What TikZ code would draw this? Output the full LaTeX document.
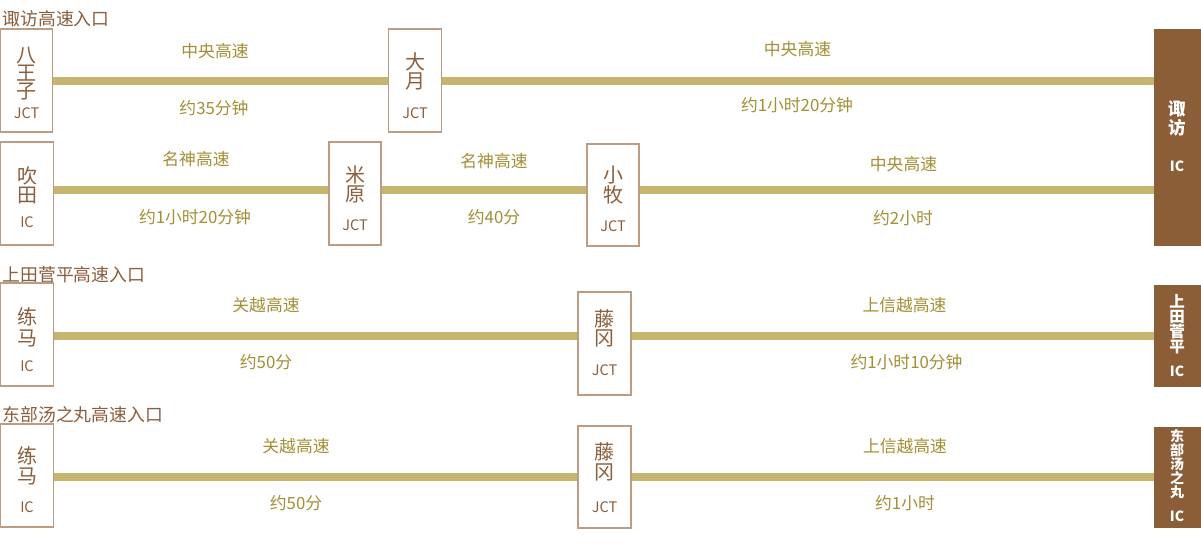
\documentclass[tikz,border=0pt]{standalone}
\usepackage{fontspec}
\setmainfont{Noto Sans CJK SC}
\definecolor{roadc}{HTML}{C5B56E}
\definecolor{lblc}{HTML}{A48F35}
\definecolor{brnc}{HTML}{8B5E3C}
\definecolor{bordc}{HTML}{BC9C82}
\definecolor{icfill}{HTML}{8C5E38}
\tikzset{
  stopbox/.style={draw=bordc, line width=1.3pt, fill=white, minimum height=103pt, inner sep=0pt},
  icbox/.style={fill=icfill, draw=icfill, line width=0.8pt, minimum width=46pt, inner sep=0pt},
  roadline/.style={draw=roadc, line width=8pt},
  lbltext/.style={text=lblc, font=\fontsize{16.8pt}{17pt}\selectfont, inner sep=0pt},
  nametext/.style={text=brnc, font=\fontsize{20pt}{19pt}\selectfont, align=center, inner sep=0pt},
  subtext/.style={text=brnc, font=\fontsize{14.5pt}{14pt}\selectfont, inner sep=0pt},
  titletext/.style={text=brnc, font=\fontsize{17.8pt}{18pt}\selectfont, anchor=west, inner sep=0pt},
  ictext/.style={text=white, align=center, inner sep=0pt}
}
\begin{document}
\begin{tikzpicture}[x=1pt,y=-1pt]
\useasboundingbox[fill=white] (0,0) rectangle (1201,555);

% titles
\node[titletext] (t1) at (2.5,19) {诹访高速入口};
\node[titletext] (t2) at (2.5,274.5) {上田菅平高速入口};
\node[titletext] (t3) at (2.5,415) {东部汤之丸高速入口};

% IC boxes (right)
\node[icbox, minimum height=216pt] (suwaic) at (1177,137) {};
\node[icbox, minimum height=101pt] (uedaic) at (1177,335.5) {};
\node[icbox, minimum height=100pt] (tobuic) at (1177,477) {};
\node[ictext, font=\bfseries\fontsize{17.5pt}{19pt}\selectfont] (suwan) at (1177,118) {诹\\访};
\node[ictext, font=\bfseries\fontsize{14pt}{14pt}\selectfont] (suwas) at (1177,166.5) {IC};
\node[ictext, font=\bfseries\fontsize{15.5pt}{15pt}\selectfont] (uedan) at (1177,324.5) {上\\田\\菅\\平};
\node[ictext, font=\bfseries\fontsize{14pt}{14pt}\selectfont] (uedas) at (1177,371) {IC};
\node[ictext, font=\bfseries\fontsize{14pt}{14pt}\selectfont] (tobun) at (1177,464) {东\\部\\汤\\之\\丸};
\node[ictext, font=\bfseries\fontsize{14pt}{14pt}\selectfont] (tobus) at (1177,516) {IC};

% stop boxes
\node[stopbox, minimum width=52pt] (hachi) at (26.5,80.5) {};
\node[stopbox, minimum width=53pt] (otsuki) at (415,80.5) {};
\node[stopbox, minimum width=53pt] (suita) at (27,193.5) {};
\node[stopbox, minimum width=52pt] (maibara) at (355,193.5) {};
\node[stopbox, minimum width=52pt, minimum height=102pt] (komaki) at (613,195) {};
\node[stopbox, minimum width=53pt] (nerima1) at (27,334.5) {};
\node[stopbox, minimum width=53pt] (fujioka1) at (604.5,343.5) {};
\node[stopbox, minimum width=53pt] (nerima2) at (27,475.5) {};
\node[stopbox, minimum width=53pt, minimum height=102pt] (fujioka2) at (604.5,477) {};

% box texts
\node[nametext, font=\fontsize{20pt}{18pt}\selectfont] (hachin) at (26.5,74) {八\\王\\子};
\node[subtext] (hachis) at (26.5,113.5) {JCT};
\node[nametext] (otsukin) at (415,71.5) {大\\月};
\node[subtext] (otsukis) at (415,113) {JCT};
\node[nametext] (suitan) at (27,185.5) {吹\\田};
\node[subtext] (suitas) at (27,222.5) {IC};
\node[nametext] (maibaran) at (355,184.5) {米\\原};
\node[subtext] (maibaras) at (355,225) {JCT};
\node[nametext, font=\fontsize{20pt}{20pt}\selectfont] (komakin) at (613,185) {小\\牧};
\node[subtext] (komakis) at (613,226) {JCT};
\node[nametext, font=\fontsize{20pt}{20.5pt}\selectfont] (nerima1n) at (27,327.5) {练\\马};
\node[subtext] (nerima1s) at (27,366.5) {IC};
\node[nametext, font=\fontsize{20pt}{19.5pt}\selectfont] (fujioka1n) at (604.5,328.5) {藤\\冈};
\node[subtext] (fujioka1s) at (604.5,370) {JCT};
\node[nametext, font=\fontsize{20pt}{20pt}\selectfont] (nerima2n) at (27,466) {练\\马};
\node[subtext] (nerima2s) at (27,507.5) {IC};
\node[nametext, font=\fontsize{20pt}{19.5pt}\selectfont] (fujioka2n) at (604.5,462) {藤\\冈};
\node[subtext] (fujioka2s) at (604.5,507.5) {JCT};

% roads
\draw[roadline] (hachi.east) -- (otsuki.west);
\draw[roadline] (otsuki.east) -- (otsuki.east -| suwaic.west);
\coordinate (r2) at ([yshift=3.5pt]suita.east);
\draw[roadline] (r2) -- (r2 -| maibara.west);
\draw[roadline] (r2 -| maibara.east) -- (r2 -| komaki.west);
\draw[roadline] (r2 -| komaki.east) -- (r2 -| suwaic.west);
\coordinate (r3) at ([yshift=-1pt]nerima1.east);
\draw[roadline] (r3) -- (r3 -| fujioka1.west);
\draw[roadline] (r3 -| fujioka1.east) -- (r3 -| uedaic.west);
\coordinate (r4) at ([yshift=-1.5pt]nerima2.east);
\draw[roadline] (r4) -- (r4 -| fujioka2.west);
\draw[roadline] (r4 -| fujioka2.east) -- (r4 -| tobuic.west);

% road labels
\node[lbltext] (l1a) at (215,51) {中央高速};
\node[lbltext] (l1b) at (214,108) {约35分钟};
\node[lbltext] (l1c) at (797.5,49) {中央高速};
\node[lbltext] (l1d) at (797,105) {约1小时20分钟};
\node[lbltext] (l2a) at (196,159.5) {名神高速};
\node[lbltext] (l2b) at (195,217) {约1小时20分钟};
\node[lbltext] (l2c) at (494,161.5) {名神高速};
\node[lbltext] (l2d) at (494,217.5) {约40分};
\node[lbltext] (l2e) at (903.5,164.5) {中央高速};
\node[lbltext] (l2f) at (903,218.5) {约2小时};
\node[lbltext] (l3a) at (266,305) {关越高速};
\node[lbltext] (l3b) at (266,362.5) {约50分};
\node[lbltext] (l3c) at (904.5,305.5) {上信越高速};
\node[lbltext] (l3d) at (906.5,362.5) {约1小时10分钟};
\node[lbltext] (l4a) at (296,446.5) {关越高速};
\node[lbltext] (l4b) at (296,503.5) {约50分};
\node[lbltext] (l4c) at (905,446.5) {上信越高速};
\node[lbltext] (l4d) at (905,503.5) {约1小时};
\end{tikzpicture}
\end{document}
